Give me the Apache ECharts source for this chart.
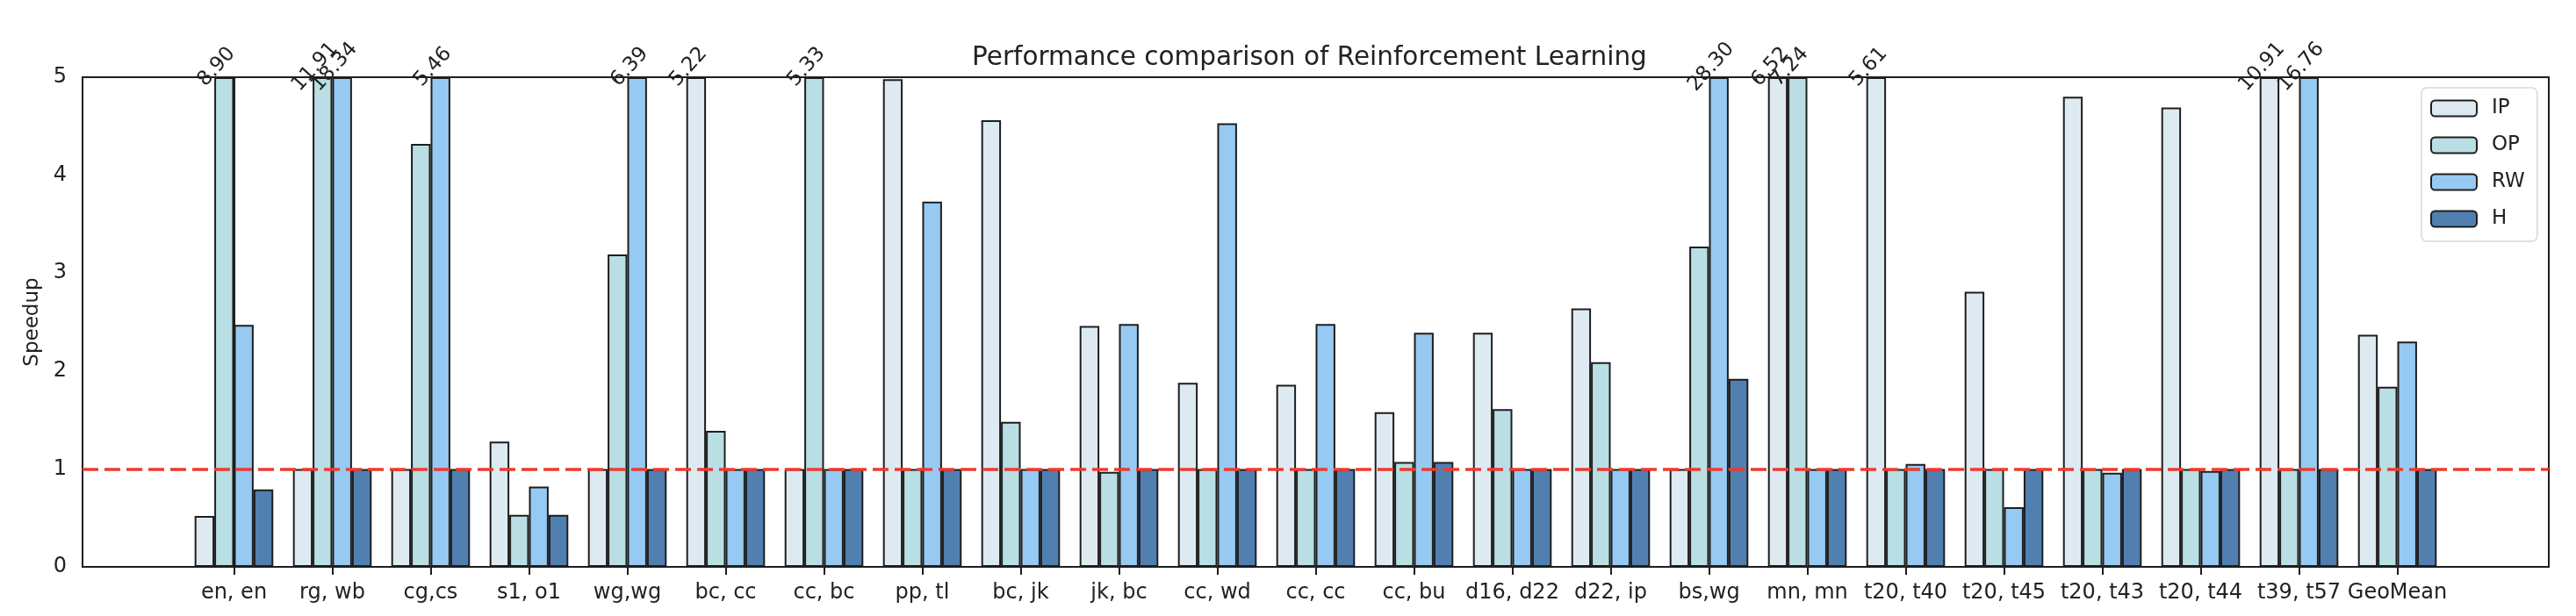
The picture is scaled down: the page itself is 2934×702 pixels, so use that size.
<!DOCTYPE html>
<html>
<head>
<meta charset="utf-8">
<script src="https://cdn.jsdelivr.net/npm/echarts@6/dist/echarts.min.js"></script>
<style>
html,body{margin:0;padding:0;background:#fff;}
#chart{width:2934px;height:702px;}
</style>
</head>
<body>
<div id="chart"></div>
<script>
const categories = ['en, en','rg, wb','cg,cs','s1, o1','wg,wg','bc, cc','cc, bc','pp, tl','bc, jk','jk, bc','cc, wd','cc, cc','cc, bu','d16, d22','d22, ip','bs,wg','mn, mn','t20, t40','t20, t45','t20, t43','t20, t44','t39, t57','GeoMean'];
const seriesNames = ['IP','OP','RW','H'];
const IP = [0.52, 1.0, 1.0, 1.28, 1.0, 5.22, 1.0, 4.98, 4.56, 2.46, 1.88, 1.86, 1.58, 2.39, 2.64, 1.0, 6.52, 5.61, 2.81, 4.80, 4.69, 10.91, 2.37];
const OP = [8.90, 11.91, 4.32, 0.53, 3.19, 1.39, 5.33, 1.0, 1.48, 0.97, 1.0, 1.0, 1.07, 1.61, 2.09, 3.27, 7.24, 1.0, 1.0, 1.0, 1.0, 1.0, 1.84];
const RW = [2.47, 18.34, 5.46, 0.82, 6.39, 1.0, 1.0, 3.73, 1.0, 2.48, 4.53, 2.48, 2.39, 1.0, 1.0, 28.30, 1.0, 1.05, 0.61, 0.96, 0.98, 16.76, 2.30];
const H  = [0.79, 1.0, 1.0, 0.53, 1.0, 1.0, 1.0, 1.0, 1.0, 1.0, 1.0, 1.0, 1.07, 1.0, 1.0, 1.92, 1.0, 1.0, 1.0, 1.0, 1.0, 1.0, 1.0];
const yTicks = [0, 1, 2, 3, 4, 5];
const baseline = 1;
const title = 'Performance comparison of Reinforcement Learning';

const YMAX = yTicks[yTicks.length - 1];
const colors = ['#deeaf1', '#b9dfe4', '#97caf3', '#517fb0'];
const FONT = 'DejaVu Sans';
const allSeries = [IP, OP, RW, H];

const chart = echarts.init(document.getElementById('chart'), null, {renderer: 'canvas'});

const series = allSeries.map((vals, si) => ({
  name: seriesNames[si],
  type: 'bar',
  barGap: '0%',
  barCategoryGap: '20%',
  itemStyle: {color: colors[si], borderColor: '#1e1e1e', borderWidth: 2},
  label: {
    show: false, position: 'top', rotate: 48, distance: 4,
    fontSize: 23, color: '#222',
    formatter: p => p.data.raw.toFixed(2)
  },
  data: vals.map((v, i) => ({
    value: [i, Math.min(v, YMAX)],
    raw: v,
    label: {show: v > YMAX}
  })),
  markLine: si === 3 ? {
    silent: true,
    symbol: 'none',
    label: {show: false},
    lineStyle: {color: '#f03a2e', type: [18, 7], width: 3.5},
    data: [{yAxis: baseline}]
  } : undefined,
  z: 2
}));

const option = {
  animation: false,
  textStyle: {fontFamily: FONT},
  title: {
    text: title,
    left: 1107,
    top: 51,
    padding: 0,
    textStyle: {fontSize: 29.5, fontWeight: 'normal', color: '#222', fontFamily: FONT}
  },
  legend: {
    orient: 'vertical',
    left: 2758,
    top: 100,
    padding: [12, 14, 14, 10],
    itemWidth: 52,
    itemHeight: 18,
    itemGap: 19,
    backgroundColor: '#fff',
    borderColor: '#d8d8d8',
    borderWidth: 1.5,
    borderRadius: 6,
    textStyle: {fontSize: 23, color: '#222', fontFamily: FONT, lineHeight: 18, padding: [0, 0, 0, 12]},
    data: seriesNames
  },
  grid: {
    left: 94, right: 31, top: 88, bottom: 56,
    show: true, borderColor: '#1e1e1e', borderWidth: 2, backgroundColor: 'transparent'
  },
  xAxis: {
    type: 'value',
    min: -1.54,
    max: 23.54,
    splitLine: {show: false},
    axisLine: {show: true, onZero: false, lineStyle: {color: '#1e1e1e', width: 2}},
    axisTick: {show: true, length: 9, customValues: categories.map((c, i) => i), lineStyle: {color: '#1e1e1e', width: 2}},
    axisLabel: {
      customValues: categories.map((c, i) => i),
      formatter: v => categories[Math.round(v)],
      fontSize: 24, color: '#222', margin: 18, fontFamily: FONT
    }
  },
  yAxis: {
    type: 'value',
    min: yTicks[0],
    max: YMAX,
    interval: 1,
    name: 'Speedup',
    nameLocation: 'middle',
    nameRotate: 90,
    nameGap: 45,
    nameTextStyle: {fontSize: 23, color: '#222', fontFamily: FONT},
    splitLine: {show: false},
    axisLine: {show: true, lineStyle: {color: '#1e1e1e', width: 2}},
    axisTick: {show: true, length: 8, lineStyle: {color: '#1e1e1e', width: 2}},
    axisLabel: {fontSize: 24, color: '#222', margin: 18, fontFamily: FONT}
  },
  series: series
};
chart.setOption(option);
</script>
</body>
</html>
